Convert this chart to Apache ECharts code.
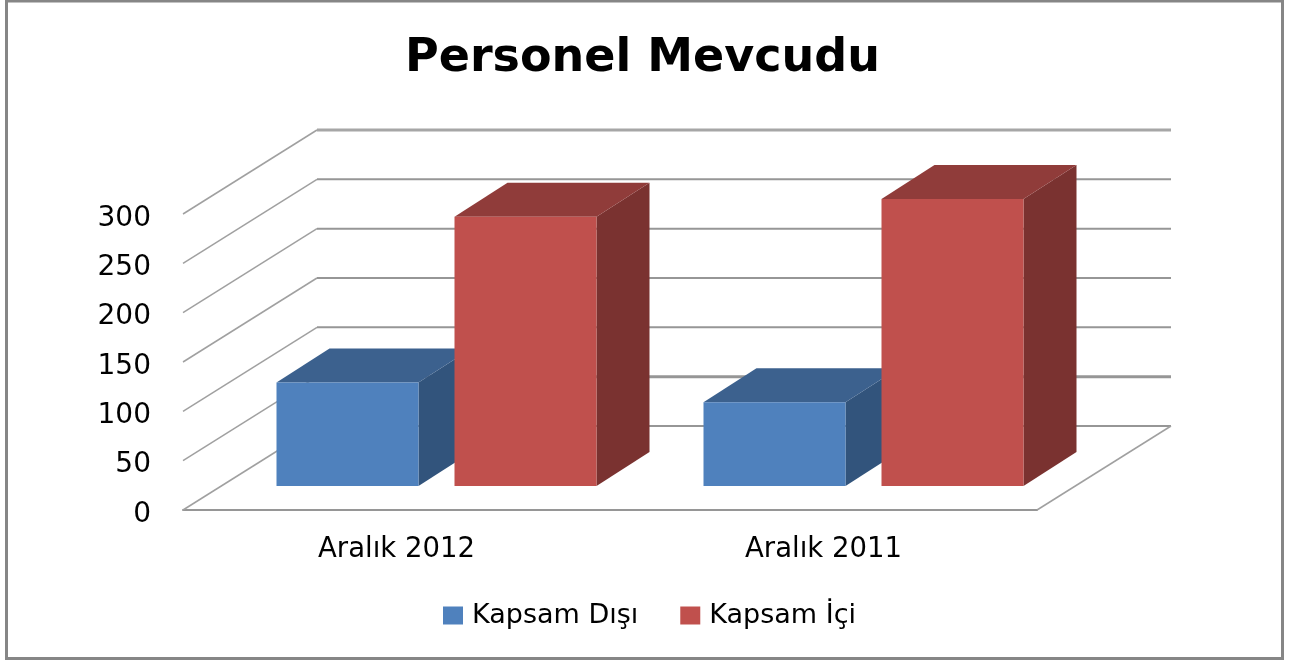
<!DOCTYPE html>
<html>
<head>
<meta charset="utf-8">
<title>Personel Mevcudu</title>
<style>
html,body{margin:0;padding:0;background:#fff;}
#chart{width:1290px;height:660px;}
</style>
</head>
<body>
<div id="chart"></div>
<script src="https://cdn.jsdelivr.net/npm/echarts@6/dist/echarts.min.js"></script>
<script>
var categories = ['Aralık 2012', 'Aralık 2011'];
var kapsamDisi = [105, 85];
var kapsamIci = [273, 291];
var gridValues = [0, 50, 100, 150, 200, 250, 300];

// offsets of the fake 3d box, in pixels
var wallDx = 134, wallDy = -84;
var floorDx = 38, floorDy = -24;
var depthDx = 53, depthDy = -34;
var barW = 142;

function barItem(left, front, top, side) {
	return function(params, api){
		var bottomPt = api.coord([api.value(0), 0]);
		var topPt = api.coord([api.value(0), api.value(1)]);
		var x = bottomPt[0] + floorDx + left;
		var y0 = bottomPt[1] + floorDy;
		var y1 = topPt[1] + floorDy;
		return {
			type: 'group',
			children: [
				{type:'polygon', shape:{points:[[x+barW,y0],[x+barW+depthDx,y0+depthDy],[x+barW+depthDx,y1+depthDy],[x+barW,y1]]}, style:{fill:side}},
				{type:'polygon', shape:{points:[[x,y1],[x+depthDx,y1+depthDy],[x+barW+depthDx,y1+depthDy],[x+barW,y1]]}, style:{fill:top}},
				{type:'rect', shape:{x:x,y:y1,width:barW,height:y0-y1}, style:{fill:front}}
			]
		};
	};
}

function wallItem(params, api){
	var v = api.value(0);
	var a = api.coord([0, v]);
	var size = api.size([1, 0]);
	var xl = a[0] - size[0]/2;
	var xr = xl + size[0]*categories.length;
	var thick = (v == 300 || v == 50) ? 3 : 2;
	var children = [
		{type:'line', shape:{x1:xl,y1:a[1],x2:xl+wallDx,y2:a[1]+wallDy}, style:{stroke:'#a0a0a0',lineWidth:1.5}},
		{type:'line', shape:{x1:xl+wallDx,y1:a[1]+wallDy,x2:xr+wallDx,y2:a[1]+wallDy}, style:{stroke:v==300?'#a6a6a6':'#969696',lineWidth:thick}}
	];
	if(v == 0){
		children.push({type:'line', shape:{x1:xr,y1:a[1],x2:xr+wallDx,y2:a[1]+wallDy}, style:{stroke:'#a0a0a0',lineWidth:1.5}});
	}
	return {type:'group', children:children};
}

var chart = echarts.init(document.getElementById('chart'));
var option = {
	animation: false,
	backgroundColor: '#fff',
	title: {
		text: 'Personel Mevcudu',
		left: 400,
		top: 31,
		textStyle: {fontFamily:'DejaVu Sans', fontSize:46, fontWeight:'bold', color:'#000'}
	},
	legend: {
		left: 438,
		top: 597,
		itemWidth: 20,
		itemHeight: 18,
		itemGap: 42,
		icon: 'rect',
		data: ['Kapsam Dışı', 'Kapsam İçi'],
		textStyle: {fontFamily:'DejaVu Sans', fontSize:27, color:'#000', padding:[0,0,0,4]}
	},
	grid: {left:183, top:214, width:854, height:296},
	xAxis: {
		type: 'category',
		data: categories,
		axisLine: {lineStyle:{color:'#969696', width:2}},
		axisTick: {show:false},
		axisLabel: {fontFamily:'DejaVu Sans', fontSize:27.5, color:'#000', margin:26}
	},
	yAxis: {
		type: 'value',
		min: 0,
		max: 300,
		interval: 50,
		axisLine: {show:false},
		axisTick: {show:false},
		splitLine: {show:false},
		axisLabel: {fontFamily:'DejaVu Sans', fontSize:28, color:'#000', margin:32, verticalAlign:'top', lineHeight:9}
	},
	graphic: [{
		type: 'rect',
		shape: {x:6.5, y:1, width:1276, height:657.5},
		style: {fill:'none', stroke:'#868686', lineWidth:3},
		silent: true
	}],
	series: [
		{
			type: 'custom',
			silent: true,
			legendHoverLink: false,
			renderItem: wallItem,
			encode: {y:0},
			data: gridValues.map(function(v){return [v];}),
			z: 1
		},
		{
			name: 'Kapsam Dışı',
			type: 'custom',
			itemStyle: {color:'#4f81bd'},
			renderItem: barItem(-158, '#4f81bd', '#3c618e', '#32547c'),
			encode: {x:0, y:1},
			data: kapsamDisi.map(function(v,i){return [i,v];}),
			z: 2
		},
		{
			name: 'Kapsam İçi',
			type: 'custom',
			itemStyle: {color:'#c0504d'},
			renderItem: barItem(20, '#c0504d', '#903c3a', '#7a3230'),
			encode: {x:0, y:1},
			data: kapsamIci.map(function(v,i){return [i,v];}),
			z: 3
		}
	]
};
chart.setOption(option);
</script>
</body>
</html>
